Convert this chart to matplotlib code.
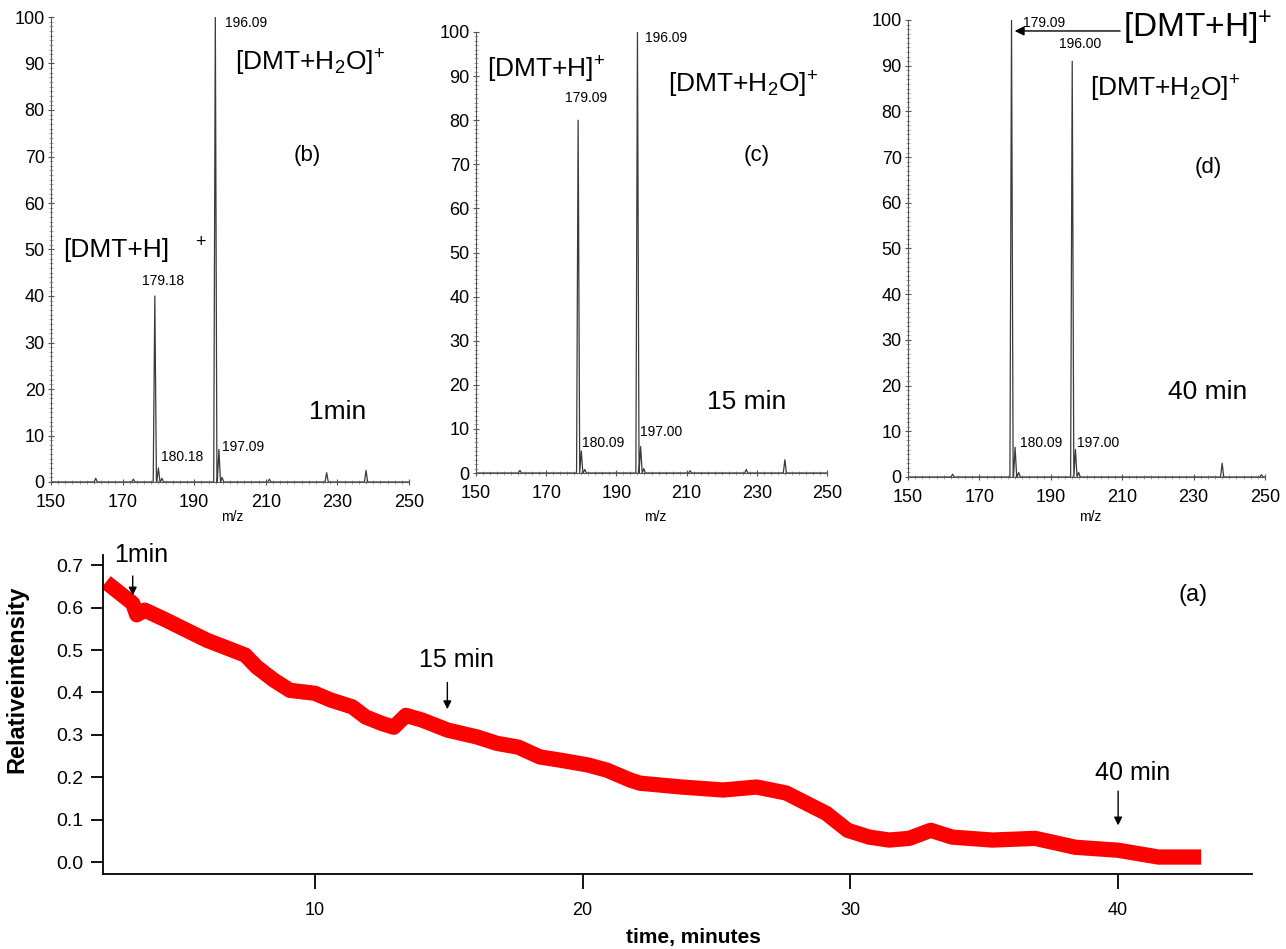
import numpy as np
import matplotlib
matplotlib.use("Agg")
import matplotlib.pyplot as plt

plt.rcParams["font.family"] = ["Liberation Sans", "DejaVu Sans"]
plt.rcParams["mathtext.fontset"] = "custom"
plt.rcParams["mathtext.rm"] = "Liberation Sans"
plt.rcParams["mathtext.it"] = "Liberation Sans"

# ---- mass spectra: peak m/z and relative intensity ----
b_mz = [162.5, 173.0, 179.0, 180.0, 181.0, 195.9, 196.9, 197.8, 211.0, 227.0, 238.0]
b_int = [0.8, 0.6, 40.0, 3.0, 0.8, 100.0, 7.0, 1.0, 0.6, 2.0, 2.5]

c_mz = [162.5, 179.1, 180.0, 181.0, 196.0, 196.9, 197.8, 211.0, 227.0, 238.0]
c_int = [0.6, 80.0, 5.0, 0.8, 100.0, 6.0, 1.0, 0.5, 0.8, 3.0]

d_mz = [162.5, 179.0, 180.0, 181.0, 196.0, 196.9, 197.8, 238.0, 249.0]
d_int = [0.6, 100.0, 6.5, 1.0, 91.0, 6.0, 1.0, 3.0, 0.5]

# ---- time trace (a): relative intensity vs time ----
t_min = [2.2, 2.34, 3.2, 3.35, 3.65, 4.43, 5.2, 5.97, 6.75, 7.4, 7.83, 8.47, 9.07,
         10.0, 10.6, 11.4, 11.9, 12.5, 12.95, 13.4, 14.0, 14.97, 16.06, 16.8, 17.6,
         18.4, 19.2, 20.2, 20.9, 21.8, 22.15, 23.7, 25.25, 26.5, 27.6, 28.35, 29.1,
         29.9, 30.7, 31.45, 32.2, 33.0, 33.8, 35.3, 36.9, 38.4, 40.0, 41.5, 43.1]
rel_int = [0.66, 0.653, 0.61, 0.583, 0.594, 0.571, 0.547, 0.523, 0.504, 0.488, 0.46,
           0.429, 0.405, 0.398, 0.382, 0.366, 0.342, 0.327, 0.318, 0.346, 0.335, 0.311,
           0.295, 0.28, 0.271, 0.248, 0.24, 0.229, 0.217, 0.193, 0.186, 0.177, 0.17,
           0.177, 0.163, 0.139, 0.115, 0.075, 0.059, 0.052, 0.056, 0.075, 0.059, 0.052,
           0.056, 0.035, 0.028, 0.012, 0.012]

W, H = 1286, 949
fig = plt.figure(figsize=(W / 100, H / 100), dpi=100)


def ax_px(left, right, top, bottom):
    return fig.add_axes([left / W, 1 - bottom / H, (right - left) / W, (bottom - top) / H])


def stick_line(mz, inten, hw=0.45):
    xs, ys = [150.0], [0.0]
    for m, h in sorted(zip(mz, inten)):
        xs += [m - hw, m, m + hw]
        ys += [0.0, h, 0.0]
    xs.append(250.0)
    ys.append(0.0)
    return xs, ys


def spectrum(ax, mz, inten):
    xs, ys = stick_line(mz, inten)
    ax.plot(xs, ys, color="#3a3a3a", lw=0.9)
    ax.set_xlim(150, 250)
    ax.set_ylim(0, 100)
    ax.set_xticks(range(150, 251, 20))
    ax.set_xticks(range(150, 251, 2), minor=True)
    ax.set_yticks(range(0, 101, 10))
    ax.set_yticks(range(0, 101, 1), minor=True)
    for s in ("top", "right"):
        ax.spines[s].set_visible(False)
    for s in ("left", "bottom"):
        ax.spines[s].set_color("#555555")
        ax.spines[s].set_linewidth(0.8)
    ax.tick_params(which="major", direction="inout", length=5, width=0.8,
                   labelsize=13, colors="#555555", labelcolor="black")
    ax.tick_params(which="minor", direction="inout", length=3, width=0.5, colors="#888888")
    ax.tick_params(axis="x", pad=6)
    ax.tick_params(axis="y", pad=2)


big = 19
small = 10

# (b) 1 min
axb = ax_px(51, 409, 17, 482)
spectrum(axb, b_mz, b_int)
axb.text(198.6, 98.7, "196.09", fontsize=small, va="center")
axb.text(201.4, 90.1, r"[DMT+H$_2$O]$^{+}$", fontsize=big, va="center")
axb.text(221.5, 70.3, "(b)", fontsize=16, ha="center", va="center")
axb.text(153.4, 49.9, "[DMT+H]", fontsize=big, va="center")
axb.text(191.6, 51.6, "+", fontsize=13, ha="center", va="center")
axb.text(181.3, 43.2, "179.18", fontsize=small, ha="center", va="center")
axb.text(186.6, 5.4, "180.18", fontsize=small, ha="center", va="center")
axb.text(197.8, 7.5, "197.09", fontsize=small, va="center")
axb.text(230.2, 15.1, "1min", fontsize=big, ha="center", va="center")
axb.text(200.5, -7.5, "m/z", fontsize=small, ha="center", va="center")

# (c) 15 min
axc = ax_px(476, 827, 32, 473)
spectrum(axc, c_mz, c_int)
axc.text(153.1, 91.4, r"[DMT+H]$^{+}$", fontsize=big, va="center")
axc.text(181.3, 85.0, "179.09", fontsize=small, ha="center", va="center")
axc.text(198.1, 98.6, "196.09", fontsize=small, va="center")
axc.text(204.7, 88.0, r"[DMT+H$_2$O]$^{+}$", fontsize=big, va="center")
axc.text(230.1, 72.1, "(c)", fontsize=16, ha="center", va="center")
axc.text(227.2, 16.1, "15 min", fontsize=big, ha="center", va="center")
axc.text(186.2, 6.8, "180.09", fontsize=small, ha="center", va="center")
axc.text(196.7, 9.3, "197.00", fontsize=small, va="center")
axc.text(201.0, -10.0, "m/z", fontsize=small, ha="center", va="center")

# (d) 40 min
axd = ax_px(908, 1265, 20, 477)
spectrum(axd, d_mz, d_int)
axd.text(182.2, 99.3, "179.09", fontsize=small, va="center")
axd.annotate("", xy=(179.1, 97.6), xytext=(210.2, 97.6),
             arrowprops=dict(arrowstyle="-|>", color="black", lw=1, mutation_scale=14),
             annotation_clip=False)
axd.text(210.2, 98.2, r"[DMT+H]$^{+}$", fontsize=24, va="center")
axd.text(198.2, 94.7, "196.00", fontsize=small, ha="center", va="center")
axd.text(201.0, 84.9, r"[DMT+H$_2$O]$^{+}$", fontsize=big, va="center")
axd.text(234.0, 67.8, "(d)", fontsize=16, ha="center", va="center")
axd.text(233.8, 18.6, "40 min", fontsize=big, ha="center", va="center")
axd.text(187.3, 7.4, "180.09", fontsize=small, ha="center", va="center")
axd.text(197.3, 7.4, "197.00", fontsize=small, va="center")
axd.text(201.0, -8.8, "m/z", fontsize=small, ha="center", va="center")

# (a) time trace
axa = ax_px(103, 1252, 555, 874)
axa.plot(t_min, rel_int, color="red", lw=11, solid_capstyle="butt", solid_joinstyle="round")
axa.set_xlim(2.09, 45.0)
axa.set_ylim(-0.028, 0.724)
axa.set_xticks([10, 20, 30, 40])
axa.set_yticks(np.arange(0, 0.71, 0.1))
axa.set_yticklabels([f"{v:.1f}" for v in np.arange(0, 0.71, 0.1)])
for s in ("top", "right"):
    axa.spines[s].set_visible(False)
for s in ("left", "bottom"):
    axa.spines[s].set_linewidth(1.3)
axa.tick_params(axis="x", direction="out", length=11, width=1.3, labelsize=13, pad=9)
axa.tick_params(axis="y", direction="out", length=9, width=1.3, labelsize=14, pad=5)
fig.text(693 / W, 1 - 938 / H, "time, minutes", fontsize=15, fontweight="bold",
         ha="center", va="center")
fig.text(17 / W, 1 - 679 / H, "Relativeintensity", fontsize=17, fontweight="bold",
         ha="center", va="center", rotation=90)

arrow = dict(arrowstyle="-|>", color="black", lw=1, mutation_scale=12)
axa.annotate("", xy=(3.2, 0.622), xytext=(3.2, 0.681), arrowprops=arrow)
axa.text(3.5, 0.724, "1min", fontsize=18, ha="center", va="center")
axa.annotate("", xy=(14.95, 0.354), xytext=(14.95, 0.43), arrowprops=arrow)
axa.text(15.3, 0.476, "15 min", fontsize=18, ha="center", va="center")
axa.annotate("", xy=(40.0, 0.08), xytext=(40.0, 0.174), arrowprops=arrow)
axa.text(40.56, 0.21, "40 min", fontsize=18, ha="center", va="center")
axa.text(42.8, 0.63, "(a)", fontsize=17, ha="center", va="center")

fig.savefig("out.png", dpi=100)
